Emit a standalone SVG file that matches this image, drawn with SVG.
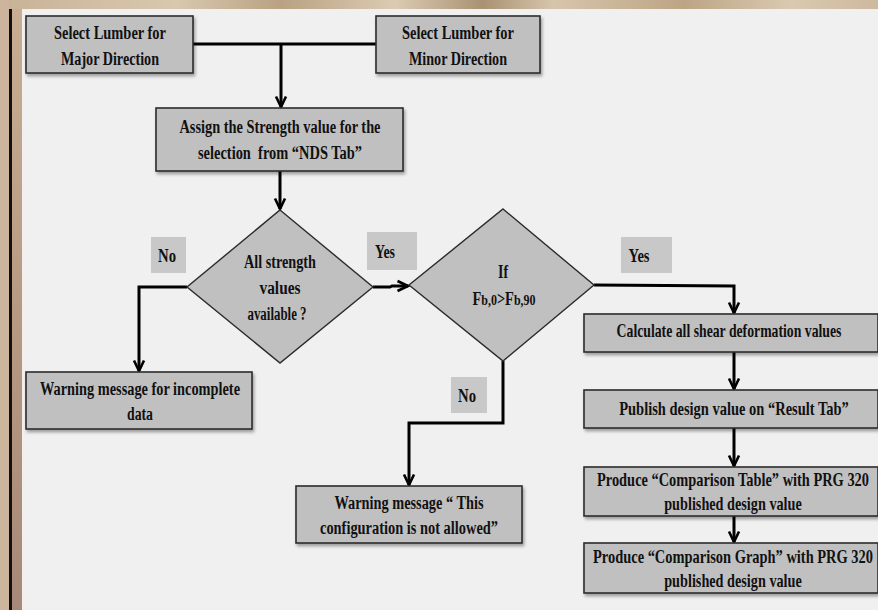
<svg xmlns="http://www.w3.org/2000/svg" width="878" height="610" viewBox="0 0 878 610">
<defs>
<linearGradient id="wood" x1="0" y1="0" x2="1" y2="0">
<stop offset="0" stop-color="#c8b296"/>
<stop offset="0.2" stop-color="#d9c8ae"/>
<stop offset="0.32" stop-color="#b9a283"/>
<stop offset="0.45" stop-color="#dccbb2"/>
<stop offset="0.55" stop-color="#a99273"/>
<stop offset="0.63" stop-color="#d7c5ab"/>
<stop offset="0.78" stop-color="#bca585"/>
<stop offset="0.9" stop-color="#dac9b0"/>
<stop offset="1" stop-color="#cdb99d"/>
</linearGradient>
<linearGradient id="side" x1="0" y1="0" x2="0" y2="1">
<stop offset="0" stop-color="#c9ad92"/>
<stop offset="0.5" stop-color="#b89a82"/>
<stop offset="1" stop-color="#a88878"/>
</linearGradient>
<filter id="sh" x="-5%" y="-10%" width="115%" height="130%">
<feDropShadow dx="1.5" dy="2.5" stdDeviation="1.5" flood-color="#000" flood-opacity="0.35"/>
</filter>
<marker id="arr" markerUnits="userSpaceOnUse" markerWidth="14" markerHeight="14" viewBox="0 0 14 14" refX="12.5" refY="7" orient="auto">
<path d="M2,2 L12.5,7 L2,12" fill="none" stroke="#000" stroke-width="2.6" stroke-linejoin="miter"/>
</marker>
</defs>
<style>
.box{fill:#c0c0c0;stroke:#2b2b2b;stroke-width:1.6;filter:url(#sh)}
.dia{fill:#c0c0c0;stroke:#2b2b2b;stroke-width:1.4}
.lbl{fill:#c8c8c8}
.t{font-family:"Liberation Serif","Times New Roman",serif;font-weight:bold;font-size:18px;fill:#111;text-anchor:middle;white-space:pre}
.c{fill:none;stroke:#000;stroke-width:3}
.ca{fill:none;stroke:#000;stroke-width:3;marker-end:url(#arr)}
</style>
<rect x="0" y="0" width="878" height="610" fill="url(#wood)"/>
<rect x="0" y="0" width="9" height="610" fill="#ccb59c"/>
<rect x="9" y="9" width="3" height="601" fill="#111"/>
<rect x="12" y="9" width="10" height="601" fill="url(#side)"/>
<rect x="22" y="9" width="856" height="601" fill="#f0f0f0"/>

<g id="connectors">
<line class="c" x1="193" y1="44" x2="376" y2="44"/>
<line class="ca" x1="281" y1="44" x2="281" y2="107"/>
<line class="ca" x1="280" y1="171" x2="280" y2="209"/>
<polyline class="ca" points="187,287 139,287 139,371"/>
<polyline class="ca" points="373,287 390,287 392,286 408,286"/>
<polyline class="ca" points="594,285 734,286 734,313"/>
<polyline class="ca" points="503,361 503,423 409,423 409,485"/>
<line class="ca" x1="734" y1="352" x2="734" y2="389"/>
<line class="ca" x1="734" y1="428" x2="734" y2="466"/>
<line class="ca" x1="734" y1="516" x2="734" y2="542"/>
</g>

<g id="n1">
<rect class="box" x="26" y="16" width="167" height="57"/>
<text class="t" x="110" y="39" textLength="112" lengthAdjust="spacingAndGlyphs">Select Lumber for</text>
<text class="t" x="110" y="65" textLength="98" lengthAdjust="spacingAndGlyphs">Major Direction</text>
</g>
<g id="n2">
<rect class="box" x="376" y="16" width="164" height="57"/>
<text class="t" x="458" y="39" textLength="112" lengthAdjust="spacingAndGlyphs">Select Lumber for</text>
<text class="t" x="458" y="65" textLength="98" lengthAdjust="spacingAndGlyphs">Minor Direction</text>
</g>
<g id="n3">
<rect class="box" x="156" y="108" width="247" height="63"/>
<text class="t" x="280" y="133" textLength="201" lengthAdjust="spacingAndGlyphs">Assign the Strength value for the</text>
<text class="t" x="280" y="159" textLength="164" lengthAdjust="spacingAndGlyphs">selection  from “NDS Tab”</text>
</g>
<g id="d1">
<polygon class="dia" points="280,210 373,287 280,363 187,287"/>
<text class="t" x="280" y="268" textLength="72" lengthAdjust="spacingAndGlyphs">All strength</text>
<text class="t" x="280" y="294" textLength="41" lengthAdjust="spacingAndGlyphs">values</text>
<text class="t" x="277" y="320" textLength="59" lengthAdjust="spacingAndGlyphs">available ?</text>
</g>
<g id="lblNo1">
<rect class="lbl" x="151" y="237" width="35" height="36"/>
<text class="t" x="167" y="262" textLength="18" lengthAdjust="spacingAndGlyphs">No</text>
</g>
<g id="lblYes1">
<rect class="lbl" x="367" y="232" width="50" height="38"/>
<text class="t" x="385" y="258" textLength="20" lengthAdjust="spacingAndGlyphs">Yes</text>
</g>
<g id="d2">
<polygon class="dia" points="503,209 594,285 503,361 409,285"/>
<text class="t" x="503" y="278" textLength="10" lengthAdjust="spacingAndGlyphs">If</text>
<text class="t" transform="translate(504,305) scale(0.8,1)" x="0" y="0">F<tspan font-size="15">b,0</tspan>&gt;F<tspan font-size="15">b,90</tspan></text>
</g>
<g id="lblYes2">
<rect class="lbl" x="621" y="237" width="51" height="36"/>
<text class="t" x="639" y="262" textLength="21" lengthAdjust="spacingAndGlyphs">Yes</text>
</g>
<g id="w1">
<rect class="box" x="26" y="372" width="226" height="57"/>
<text class="t" x="140" y="395" textLength="200" lengthAdjust="spacingAndGlyphs">Warning message for incomplete</text>
<text class="t" x="140" y="420" textLength="26" lengthAdjust="spacingAndGlyphs">data</text>
</g>
<g id="lblNo2">
<rect class="lbl" x="451" y="377" width="36" height="36"/>
<text class="t" x="467" y="402" textLength="18" lengthAdjust="spacingAndGlyphs">No</text>
</g>
<g id="w2">
<rect class="box" x="296" y="486" width="226" height="57"/>
<text class="t" x="409" y="509" textLength="149" lengthAdjust="spacingAndGlyphs">Warning message “ This</text>
<text class="t" x="409" y="534" textLength="178" lengthAdjust="spacingAndGlyphs">configuration is not allowed”</text>
</g>
<g id="calc">
<rect class="box" x="584" y="314" width="294" height="38"/>
<text class="t" transform="translate(729,337) scale(0.8,1)" x="0" y="0" textLength="281" lengthAdjust="spacingAndGlyphs">Calculate all shear deformation values</text>
</g>
<g id="pub">
<rect class="box" x="584" y="390" width="294" height="38"/>
<text class="t" transform="translate(734,415) scale(0.8,1)" x="0" y="0" textLength="287" lengthAdjust="spacingAndGlyphs">Publish design value on “Result Tab”</text>
</g>
<g id="tab">
<rect class="box" x="584" y="467" width="294" height="49"/>
<text class="t" transform="translate(733,486) scale(0.8,1)" x="0" y="0" textLength="340" lengthAdjust="spacingAndGlyphs">Produce “Comparison Table” with PRG 320</text>
<text class="t" transform="translate(733,510) scale(0.8,1)" x="0" y="0" textLength="172" lengthAdjust="spacingAndGlyphs">published design value</text>
</g>
<g id="graph">
<rect class="box" x="584" y="543" width="294" height="50"/>
<text class="t" transform="translate(733,563) scale(0.8,1)" x="0" y="0" textLength="350" lengthAdjust="spacingAndGlyphs">Produce “Comparison Graph” with PRG 320</text>
<text class="t" transform="translate(733,587) scale(0.8,1)" x="0" y="0" textLength="172" lengthAdjust="spacingAndGlyphs">published design value</text>
</g>
</svg>
